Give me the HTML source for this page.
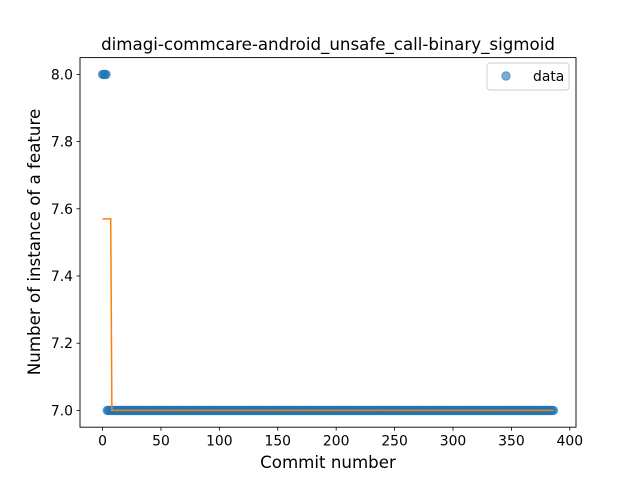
<!DOCTYPE html>
<html><head><meta charset="utf-8"><style>
html,body{margin:0;padding:0;background:#fff;}
svg{display:block;font-family:"DejaVu Sans","Liberation Sans",sans-serif;}
</style></head><body>
<svg id="chart" width="640" height="480" viewBox="0 0 640 480">
<rect width="640" height="480" fill="#fff"/>
<text x="328" y="50" text-anchor="middle" font-size="16.67" fill="#000">dimagi-commcare-android_unsafe_call-binary_sigmoid</text>
<g id="plot"></g>
<rect x="80" y="57.6" width="496" height="369.6" fill="none" stroke="#000" stroke-width="0.9"/>
<text x="328" y="468" text-anchor="middle" font-size="16.67">Commit number</text>
<text transform="translate(40,242) rotate(-90)" text-anchor="middle" font-size="16.67">Number of instance of a feature</text>
<g>
<rect x="487" y="63" width="82" height="27" rx="3" fill="#fff" fill-opacity="0.8" stroke="#ccc" stroke-width="0.9"/>
<circle cx="506" cy="76" r="4.2" fill="#1f77b4" fill-opacity="0.6" stroke="#1f77b4" stroke-opacity="0.6"/>
<text x="533" y="81" font-size="13.9">data</text>
</g>
</svg>
<script>
// data as runs of identical values (commit index starts at 0)
const pointValues = [8, 7];
const pointCounts = [4, 383];
const fitValues = [7.57, 7.0];
const fitBreakX = [0, 8, 386];
const xTicks = [0, 50, 100, 150, 200, 250, 300, 350, 400];
const yTicks = [7.0, 7.2, 7.4, 7.6, 7.8, 8.0];

const L = 80, R = 576, T = 57.6, B = 427.2;
const xmin = -19.3, xmax = 405.3, ymin = 6.95, ymax = 8.05;
const X = v => L + (v - xmin) / (xmax - xmin) * (R - L);
const Y = v => B - (v - ymin) / (ymax - ymin) * (B - T);
const NS = "http://www.w3.org/2000/svg";
const g = document.getElementById('plot');
function mk(tag, attrs) { const e = document.createElementNS(NS, tag); for (const k in attrs) e.setAttribute(k, attrs[k]); g.appendChild(e); return e; }

xTicks.forEach(t => {
  const l = mk('line', {x1: X(t), x2: X(t), y1: B, y2: B + 3.5, stroke: '#000', 'stroke-width': 0.8});
  
  
  const tx = mk('text', {x: X(t), y: B + 18.5, 'text-anchor': 'middle', 'font-size': 13.9});
  tx.textContent = t;
  
  
});
yTicks.forEach(t => {
  const l = mk('line', {x1: L - 3.5, x2: L, y1: Y(t), y2: Y(t), stroke: '#000', 'stroke-width': 0.8});
  
  
  const tx = mk('text', {x: L - 7, y: Y(t) + 5, 'text-anchor': 'end', 'font-size': 13.9});
  tx.textContent = t.toFixed(1);
  
  
});

let idx = 0;
pointValues.forEach((v, r) => {
  for (let i = 0; i < pointCounts[r]; i++, idx++) {
    const c = mk('circle', {cx: X(idx), cy: Y(v), r: 4.2, fill: '#1f77b4', 'fill-opacity': 0.6, stroke: '#1f77b4', 'stroke-opacity': 0.6, 'stroke-width': 1});
    
    
  }
});

let d = '';
fitValues.forEach((v, i) => {
  const x0 = fitBreakX[i], x1 = i + 1 < fitValues.length ? fitBreakX[i + 1] - 1 : fitBreakX[i + 1];
  d += (i === 0 ? 'M' : 'L') + X(x0) + ',' + Y(v) + ' L' + X(x1) + ',' + Y(v) + ' ';
});
const p = mk('path', {d: d, fill: 'none', stroke: '#ff7f0e', 'stroke-width': 1.5});


</script>
</body></html>
